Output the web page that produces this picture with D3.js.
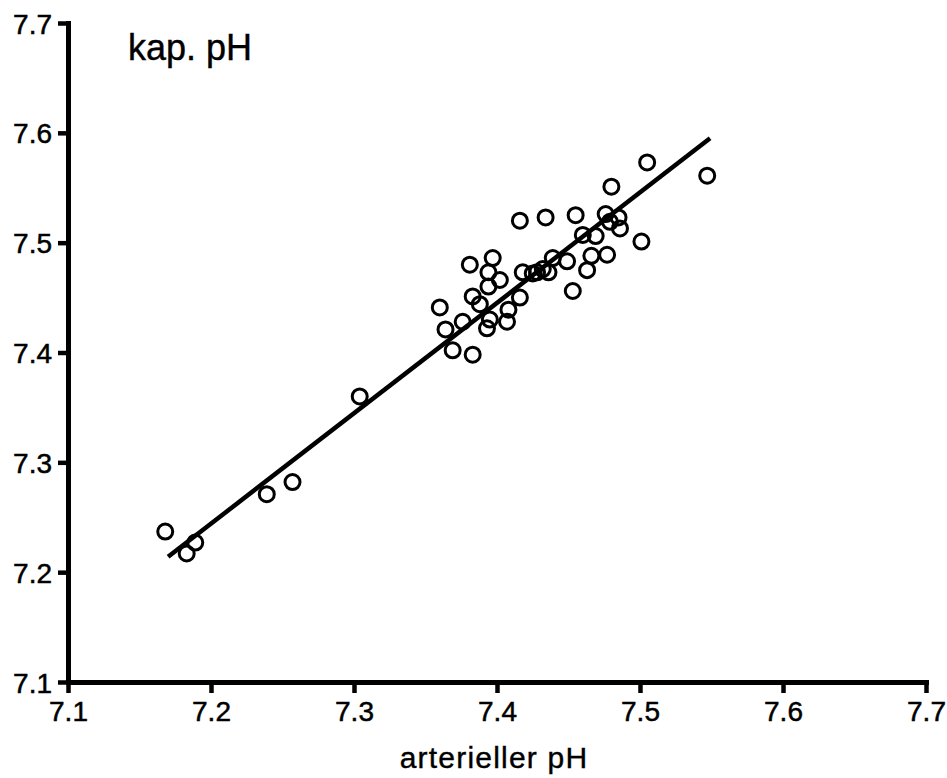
<!DOCTYPE html>
<html>
<head>
<meta charset="utf-8">
<script src="https://cdn.jsdelivr.net/npm/d3@7"></script>
<style>
  body { margin: 0; background: #fff; }
  svg { display: block; }
  .axis text { font-family: "Liberation Sans", Arial, sans-serif; font-size: 28px; fill: #000; stroke: #000; stroke-width: 0.5px; }
  .axis .tick line { stroke: #000; stroke-width: 4.5px; }
  .axis .domain { stroke: #000; stroke-width: 5px; }
  .lbl { font-family: "Liberation Sans", Arial, sans-serif; fill: #000; stroke: #000; stroke-width: 0.4px; }
</style>
</head>
<body>
<svg id="d3" width="947" height="778"></svg>
<script>
// arterieller pH vs kapillärer pH
const arterial = [7.168, 7.189, 7.183, 7.239, 7.257, 7.304, 7.360, 7.364, 7.369, 7.376,
  7.381, 7.383, 7.383, 7.388, 7.394, 7.394, 7.397, 7.402, 7.395, 7.393,
  7.407, 7.408, 7.416, 7.416, 7.418, 7.428, 7.436, 7.434, 7.439, 7.449,
  7.453, 7.455, 7.460, 7.463, 7.466, 7.469, 7.477, 7.476, 7.480, 7.485,
  7.486, 7.479, 7.501, 7.505, 7.547, 7.432, 7.425];
const capillary = [7.237, 7.227, 7.217, 7.271, 7.282, 7.360, 7.441, 7.421, 7.402, 7.428,
  7.480, 7.451, 7.398, 7.444, 7.473, 7.460, 7.486, 7.466, 7.430, 7.422,
  7.428, 7.439, 7.450, 7.520, 7.473, 7.473, 7.473, 7.523, 7.486, 7.483,
  7.456, 7.525, 7.507, 7.475, 7.488, 7.506, 7.489, 7.526, 7.551, 7.523,
  7.513, 7.519, 7.501, 7.573, 7.561, 7.476, 7.472];
// regression line end points
const fitX = [7.170, 7.549];
const fitY = [7.214, 7.595];
const ticks = [7.1, 7.2, 7.3, 7.4, 7.5, 7.6, 7.7];

const svg = d3.select("svg");
const x = d3.scaleLinear().domain([7.1, 7.7]).range([68, 926]);
const y = d3.scaleLinear().domain([7.1, 7.7]).range([682, 23]);

// y axis
const gy = svg.append("g")
    .attr("class", "axis")
    .attr("transform", "translate(68,0)")
    .call(d3.axisLeft(y).tickValues(ticks).tickFormat(d3.format(".1f"))
      .tickSize(10).tickSizeOuter(0).tickPadding(6));
gy.select(".domain").attr("stroke-linecap", "square");
gy.selectAll(".tick text").attr("dy", "0.36em");

// x axis
const gx = svg.append("g")
    .attr("class", "axis")
    .attr("transform", "translate(0,682)")
    .call(d3.axisBottom(x).tickValues(ticks).tickFormat(d3.format(".1f"))
      .tickSize(11).tickSizeOuter(0).tickPadding(8));
gx.select(".domain").attr("stroke-linecap", "square");

// regression line
svg.append("path")
    .datum(fitX.map((d, i) => [d, fitY[i]]))
    .attr("fill", "none")
    .attr("stroke", "#000")
    .attr("stroke-width", 4.5)
    .attr("d", d3.line().x(d => x(d[0])).y(d => y(d[1])));

// points
svg.selectAll(".pt")
    .data(arterial.map((d, i) => [d, capillary[i]]))
    .enter().append("circle")
    .attr("class", "pt")
    .attr("cx", d => x(d[0]))
    .attr("cy", d => y(d[1]))
    .attr("r", 7.5)
    .attr("fill", "none")
    .attr("stroke", "#000")
    .attr("stroke-width", 3);

svg.append("text")
    .attr("class", "lbl")
    .attr("x", 128)
    .attr("y", 60)
    .attr("font-size", 36)
    .text("kap. pH");

svg.append("text")
    .attr("class", "lbl")
    .attr("x", 494)
    .attr("y", 768)
    .attr("text-anchor", "middle")
    .attr("font-size", 30)
    .attr("letter-spacing", 1.2)
    .text("arterieller pH");
</script>
</body>
</html>
